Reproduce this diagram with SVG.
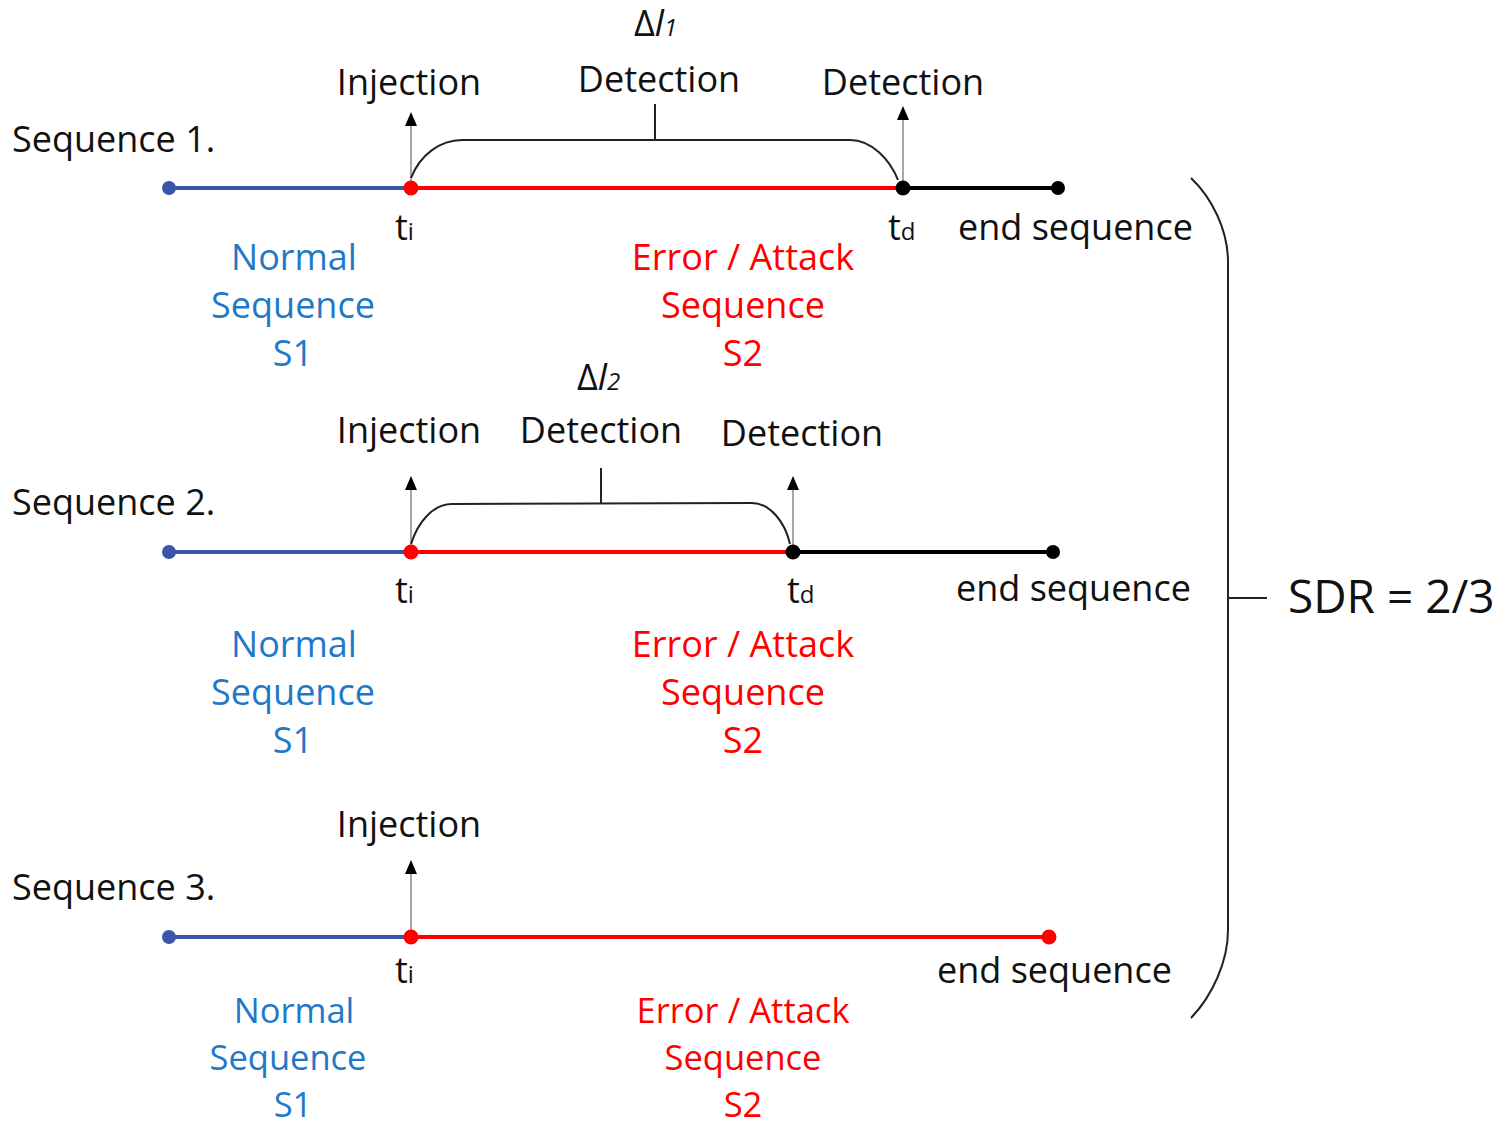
<svg xmlns="http://www.w3.org/2000/svg" width="1508" height="1128" viewBox="0 0 1508 1128">
<style>
text{font-family:"Open Sans","Noto Sans",sans-serif;font-size:36px;fill:#111}
.c{text-anchor:middle}
.blue{fill:#1f78c8}
.red{fill:#ff0000}
.sub{font-size:24px}
.sm{font-size:34.5px}
.seg-b{stroke:#3a56a8;stroke-width:4}
.seg-r{stroke:#ff0000;stroke-width:4}
.seg-k{stroke:#000;stroke-width:4}
.arr{stroke:#777;stroke-width:1.3;fill:none}
.br{stroke:#222;stroke-width:2;fill:none}
</style>
<defs>
<path id="tri" d="M-6,0 L6,0 L0,-14 Z" fill="#000"/>
</defs>

<g id="connectors">
  <line class="seg-b" x1="169" y1="188" x2="411" y2="188"/>
  <line class="seg-r" x1="411" y1="188" x2="903" y2="188"/>
  <line class="seg-k" x1="903" y1="188" x2="1058" y2="188"/>
  <line class="arr" x1="411" y1="188" x2="411" y2="124"/>
  <use href="#tri" x="411" y="126"/>
  <line class="arr" x1="903" y1="188" x2="903" y2="118"/>
  <use href="#tri" x="903" y="120"/>
  <path class="br" d="M411,178 C420,155 440,140 462,140 L850,140 C872,140 890,160 898,180"/>
  <line class="br" x1="655" y1="140" x2="655" y2="104"/>
  <line class="seg-b" x1="169" y1="552" x2="411" y2="552"/>
  <line class="seg-r" x1="411" y1="552" x2="793" y2="552"/>
  <line class="seg-k" x1="793" y1="552" x2="1053" y2="552"/>
  <line class="arr" x1="411" y1="552" x2="411" y2="488"/>
  <use href="#tri" x="411" y="490"/>
  <line class="arr" x1="793" y1="552" x2="793" y2="488"/>
  <use href="#tri" x="793" y="490"/>
  <path class="br" d="M411,544 C418,522 433,504 452,504 L752,503 C770,503 785,522 790,544"/>
  <line class="br" x1="601" y1="504" x2="601" y2="468"/>
  <line class="seg-b" x1="169" y1="937" x2="411" y2="937"/>
  <line class="seg-r" x1="411" y1="937" x2="1049" y2="937"/>
  <line class="arr" x1="411" y1="937" x2="411" y2="872"/>
  <use href="#tri" x="411" y="874"/>
  <path class="br" d="M1191,178 C1212,198 1228,230 1228,262 L1228,930 C1228,962 1212,996 1191,1018"/>
  <line class="br" x1="1228" y1="598" x2="1267" y2="598"/>
</g>

<g id="seq1">
  <circle cx="169" cy="188" r="7" fill="#3a56a8"/>
  <circle cx="411" cy="188" r="7.5" fill="#ff0000"/>
  <circle cx="903" cy="188" r="7.5" fill="#000"/>
  <circle cx="1058" cy="188" r="7" fill="#000"/>
  <text x="12" y="152">Sequence 1.</text>
  <text class="c" x="409" y="95">Injection</text>
  <text class="c" x="659" y="92">Detection</text>
  <text class="c" x="903" y="95">Detection</text>
  <text x="634" y="36">Δ<tspan font-style="italic">l</tspan><tspan class="sub" font-style="italic">1</tspan></text>
  <text x="395" y="240">t<tspan class="sub">i</tspan></text>
  <text x="888" y="240">t<tspan class="sub">d</tspan></text>
  <text x="958" y="240">end sequence</text>
  <text class="c blue" x="294" y="270">Normal</text>
  <text class="c blue" x="293" y="318">Sequence</text>
  <text class="c blue" x="293" y="366">S1</text>
  <text class="c red" x="743" y="270">Error / Attack</text>
  <text class="c red" x="743" y="318">Sequence</text>
  <text class="c red" x="743" y="366">S2</text>
</g>

<g id="seq2">
  <circle cx="169" cy="552" r="7" fill="#3a56a8"/>
  <circle cx="411" cy="552" r="7.5" fill="#ff0000"/>
  <circle cx="793" cy="552" r="7.5" fill="#000"/>
  <circle cx="1053" cy="552" r="7" fill="#000"/>
  <text x="12" y="515">Sequence 2.</text>
  <text class="c" x="409" y="443">Injection</text>
  <text class="c" x="601" y="443">Detection</text>
  <text class="c" x="802" y="446">Detection</text>
  <text x="577" y="390">Δ<tspan font-style="italic">l</tspan><tspan class="sub" font-style="italic">2</tspan></text>
  <text x="395" y="603">t<tspan class="sub">i</tspan></text>
  <text x="787" y="603">t<tspan class="sub">d</tspan></text>
  <text x="956" y="601">end sequence</text>
  <text class="c blue" x="294" y="657">Normal</text>
  <text class="c blue" x="293" y="705">Sequence</text>
  <text class="c blue" x="293" y="753">S1</text>
  <text class="c red" x="743" y="657">Error / Attack</text>
  <text class="c red" x="743" y="705">Sequence</text>
  <text class="c red" x="743" y="753">S2</text>
</g>

<g id="seq3">
  <circle cx="169" cy="937" r="7" fill="#3a56a8"/>
  <circle cx="411" cy="937" r="7.5" fill="#ff0000"/>
  <circle cx="1049" cy="937" r="7.5" fill="#ff0000"/>
  <text x="12" y="900">Sequence 3.</text>
  <text class="c" x="409" y="837">Injection</text>
  <text x="395" y="983">t<tspan class="sub">i</tspan></text>
  <text x="937" y="983">end sequence</text>
  <text class="c blue sm" x="294" y="1023">Normal</text>
  <text class="c blue sm" x="288" y="1070">Sequence</text>
  <text class="c blue sm" x="293" y="1117">S1</text>
  <text class="c red sm" x="743" y="1023">Error / Attack</text>
  <text class="c red sm" x="743" y="1070">Sequence</text>
  <text class="c red sm" x="743" y="1117">S2</text>
</g>

<g id="sdr">
  <text x="1288" y="613" style="font-size:46px">SDR = 2/3</text>
</g>
</svg>
